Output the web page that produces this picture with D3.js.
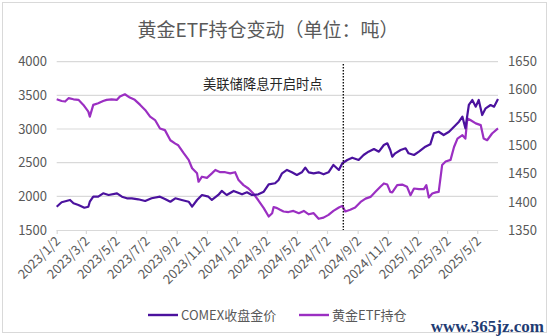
<!DOCTYPE html>
<html><head><meta charset="utf-8">
<script src="https://cdn.jsdelivr.net/npm/d3@7"></script>
<style>body{margin:0;background:#fff}svg{display:block}</style>
</head><body><svg id="c" width="550" height="336"></svg>
<script>
const titleText = "黄金ETF持仓变动（单位：吨）";
const seriesNames = ["COMEX收盘金价", "黄金ETF持仓"];
const annotationText = "美联储降息开启时点";
const tickLabels = ["2023/1/2","2023/3/2","2023/5/2","2023/7/2","2023/9/2","2023/11/2","2024/1/2","2024/3/2","2024/5/2","2024/7/2","2024/9/2","2024/11/2","2025/1/2","2025/3/2","2025/5/2"];
const leftTicks = [1500, 2000, 2500, 3000, 3500, 4000];
const rightTicks = [1350, 1400, 1450, 1500, 1550, 1600, 1650];
const dateRange = ["2023-01-02", "2025-06-13"];
const cutDate = "2024-08-04";

const comexDates = ["2023-01-02","2023-01-12","2023-01-29","2023-02-05","2023-02-15","2023-02-27","2023-03-07","2023-03-10","2023-03-17","2023-03-27","2023-04-06","2023-04-17","2023-05-04","2023-05-14","2023-05-24","2023-06-03","2023-06-16","2023-06-30","2023-07-13","2023-07-30","2023-08-09","2023-08-20","2023-08-30","2023-09-12","2023-09-26","2023-10-03","2023-10-13","2023-10-23","2023-11-05","2023-11-12","2023-11-25","2023-12-02","2023-12-12","2023-12-26","2024-01-12","2024-01-22","2024-02-01","2024-02-14","2024-02-25","2024-03-06","2024-03-19","2024-03-26","2024-04-02","2024-04-12","2024-04-22","2024-05-02","2024-05-12","2024-05-19","2024-05-26","2024-06-05","2024-06-15","2024-06-25","2024-07-05","2024-07-15","2024-07-26","2024-08-02","2024-08-12","2024-08-22","2024-09-04","2024-09-14","2024-09-24","2024-10-05","2024-10-15","2024-10-25","2024-11-01","2024-11-07","2024-11-11","2024-11-17","2024-11-28","2024-12-08","2024-12-14","2024-12-25","2025-01-04","2025-01-17","2025-01-27","2025-02-03","2025-02-13","2025-02-23","2025-03-06","2025-03-16","2025-03-26","2025-04-02","2025-04-08","2025-04-15","2025-04-22","2025-04-29","2025-05-05","2025-05-12","2025-05-19","2025-05-29","2025-06-05","2025-06-13"];
const comexPrice = [1846,1912,1946,1897,1871,1831,1846,1920,1995,1995,2045,2020,2045,1995,1971,1971,1956,1931,1971,1995,1961,1920,1971,1946,1920,1846,1946,2020,1995,1946,2020,2080,2020,2080,2030,2060,2020,2030,2069,2179,2194,2243,2342,2392,2357,2317,2357,2426,2357,2342,2357,2327,2357,2466,2392,2491,2540,2574,2540,2614,2663,2703,2663,2763,2788,2688,2589,2639,2688,2714,2639,2614,2663,2737,2773,2936,2960,2911,2960,3034,3109,3183,3010,3357,3431,3332,3431,3208,3307,3357,3332,3446];

const etfDates = ["2023-01-02","2023-01-12","2023-01-19","2023-01-26","2023-02-05","2023-02-15","2023-02-25","2023-03-07","2023-03-10","2023-03-17","2023-03-27","2023-04-06","2023-04-13","2023-04-23","2023-05-04","2023-05-10","2023-05-20","2023-05-30","2023-06-09","2023-06-20","2023-06-30","2023-07-10","2023-07-20","2023-07-30","2023-08-09","2023-08-20","2023-08-30","2023-09-05","2023-09-16","2023-09-26","2023-10-03","2023-10-13","2023-10-16","2023-10-23","2023-11-02","2023-11-12","2023-11-19","2023-11-29","2023-12-09","2023-12-19","2023-12-29","2024-01-05","2024-01-15","2024-01-25","2024-02-04","2024-02-14","2024-02-25","2024-03-06","2024-03-13","2024-03-16","2024-03-23","2024-03-29","2024-04-05","2024-04-15","2024-04-25","2024-05-06","2024-05-16","2024-05-26","2024-06-05","2024-06-15","2024-06-25","2024-07-05","2024-07-15","2024-07-26","2024-08-02","2024-08-08","2024-08-18","2024-08-28","2024-09-08","2024-09-18","2024-09-28","2024-10-08","2024-10-18","2024-10-25","2024-11-01","2024-11-07","2024-11-11","2024-11-21","2024-12-01","2024-12-11","2024-12-18","2024-12-25","2025-01-04","2025-01-14","2025-01-19","2025-01-24","2025-01-31","2025-02-07","2025-02-13","2025-02-20","2025-02-27","2025-03-09","2025-03-16","2025-03-23","2025-04-02","2025-04-08","2025-04-12","2025-04-18","2025-04-29","2025-05-09","2025-05-15","2025-05-22","2025-06-01","2025-06-13"];
const etfHoldings = [1583,1580,1579,1585,1583,1582,1573,1561,1552,1573,1576,1580,1582,1583,1582,1588,1592,1586,1582,1573,1564,1552,1546,1531,1528,1510,1504,1501,1487,1475,1460,1451,1436,1445,1443,1451,1457,1453,1453,1451,1453,1439,1430,1424,1415,1403,1389,1374,1380,1391,1389,1386,1383,1382,1384,1380,1384,1378,1380,1370,1372,1377,1384,1390,1393,1383,1386,1390,1400,1406,1409,1418,1427,1433,1431,1418,1417,1430,1431,1427,1412,1424,1423,1423,1430,1408,1415,1417,1418,1466,1472,1475,1498,1513,1519,1513,1549,1546,1540,1537,1513,1510,1522,1531];

const svg = d3.select("#c");
const pL = 56.7, pR = 498, pT = 61.7, pB = 230;
const parse = d3.timeParse("%Y-%m-%d");
const parseTick = d3.timeParse("%Y/%m/%d");
const font = "'Noto Sans CJK SC','Noto Sans',sans-serif";
const grey = "#595959";

svg.append("rect").attr("x", 2.5).attr("y", 2.5).attr("width", 544).attr("height", 330)
  .attr("fill", "#fff").attr("stroke", "#d9d9d9").attr("stroke-width", 1);

const x = d3.scaleTime().domain(dateRange.map(parse)).range([pL, pR]);
const yL = d3.scaleLinear().domain([1500, 4000]).range([pB, pT]);
const yR = d3.scaleLinear().domain([1350, 1650]).range([pB, pT]);

svg.append("g").selectAll("line").data(leftTicks.slice(1)).join("line")
  .attr("x1", pL).attr("x2", pR)
  .attr("y1", d => yL(d)).attr("y2", d => yL(d))
  .attr("stroke", "#d9d9d9").attr("stroke-width", 1.2);

svg.append("g").selectAll("text").data(leftTicks).join("text")
  .attr("x", 47).attr("y", d => yL(d)).attr("dy", "0.35em")
  .attr("text-anchor", "end").attr("font-family", font).attr("font-size", 13)
  .attr("fill", grey).text(d => d);

svg.append("g").selectAll("text").data(rightTicks).join("text")
  .attr("x", 508).attr("y", d => yR(d)).attr("dy", "0.35em")
  .attr("text-anchor", "start").attr("font-family", font).attr("font-size", 13)
  .attr("fill", grey).text(d => d);

const xAxis = d3.axisBottom(x).tickValues(tickLabels.map(parseTick)).tickSize(4).tickFormat((d, i) => tickLabels[i]);
const gx = svg.append("g").attr("transform", `translate(0,${pB})`).call(xAxis);
gx.select(".domain").attr("stroke", "#d9d9d9").attr("stroke-width", 1.2).attr("d", `M${pL},0.5H${pR}`);
gx.selectAll(".tick line").attr("stroke", "#d9d9d9").attr("stroke-width", 1.2);
gx.selectAll(".tick text")
  .attr("font-family", font).attr("font-size", 13).attr("fill", grey)
  .attr("text-anchor", "end").attr("dy", 0).attr("y", 0)
  .attr("transform", "translate(4,12) rotate(-45)");

const lineL = d3.line().x(d => x(d[0])).y(d => yL(d[1]));
const lineR = d3.line().x(d => x(d[0])).y(d => yR(d[1]));
const comexData = comexDates.map((d, i) => [parse(d), comexPrice[i]]);
const etfData = etfDates.map((d, i) => [parse(d), etfHoldings[i]]);
const colComex = "#4B129E", colEtf = "#9B2FC2";

svg.append("path").datum(etfData).attr("d", lineR).attr("fill", "none")
  .attr("stroke", colEtf).attr("stroke-width", 2.2).attr("stroke-linejoin", "round");
svg.append("path").datum(comexData).attr("d", lineL).attr("fill", "none")
  .attr("stroke", colComex).attr("stroke-width", 2.2).attr("stroke-linejoin", "round");

const cx = x(parse(cutDate));
svg.append("line").attr("x1", cx).attr("x2", cx).attr("y1", 64).attr("y2", pB)
  .attr("stroke", "#111").attr("stroke-width", 1.4).attr("stroke-dasharray", "1.5,1.5");
svg.append("text").attr("x", 203).attr("y", 84).attr("dy", "0.35em")
  .attr("font-family", font).attr("font-size", 13.3).attr("fill", "#262626").text(annotationText);

svg.append("text").attr("x", 268).attr("y", 30).attr("dy", "0.35em").attr("text-anchor", "middle")
  .attr("font-family", font).attr("font-size", 19).attr("fill", grey).text(titleText);

const legend = [{name: seriesNames[0], color: colComex, x: 148}, {name: seriesNames[1], color: colEtf, x: 299}];
const lg = svg.append("g").selectAll("g").data(legend).join("g");
lg.append("line").attr("x1", d => d.x).attr("x2", d => d.x + 30).attr("y1", 315).attr("y2", 315)
  .attr("stroke", d => d.color).attr("stroke-width", 2.4);
lg.append("text").attr("x", d => d.x + 33).attr("y", 315).attr("dy", "0.35em")
  .attr("font-family", font).attr("font-size", 13).attr("fill", grey).text(d => d.name);

svg.append("text").attr("x", 544).attr("y", 326).attr("dy", "0.35em").attr("text-anchor", "end")
  .attr("font-family", "'Liberation Serif',serif").attr("font-weight", "bold").attr("font-size", 17)
  .attr("fill", "#1f3c73").text("www.365jz.com");
</script></body></html>
